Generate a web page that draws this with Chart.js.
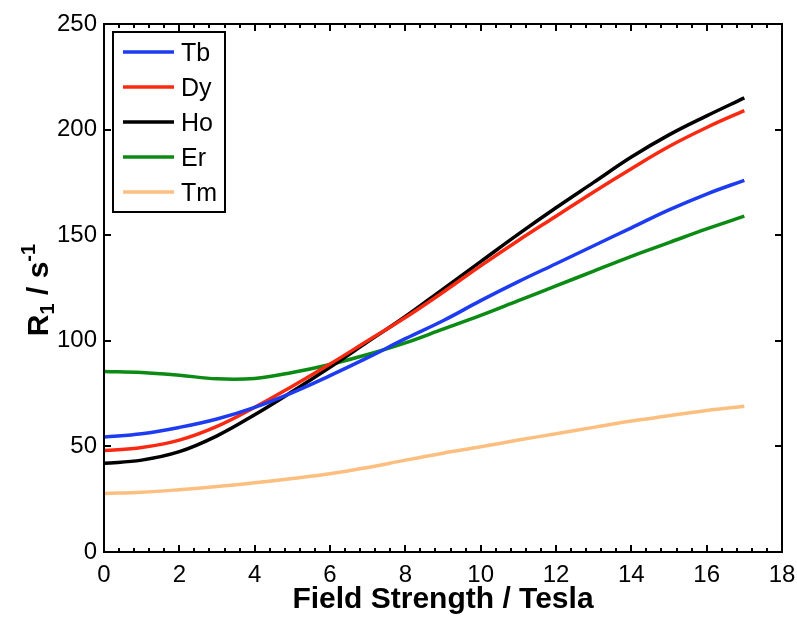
<!DOCTYPE html>
<html>
<head>
<meta charset="utf-8">
<script src="https://cdn.jsdelivr.net/npm/chart.js@4"></script>
<style>
body{margin:0;background:#fff;}
canvas{display:block;}
</style>
</head>
<body>
<canvas id="r1Chart" width="797" height="619"></canvas>
<script>
// field strength in tesla
const fieldT=[0,1,2,3,4,5,6,7,8,9,10,11,12,13,14,15,16,17];

// R1 values, s^-1
const tb=[54.5,56,59,63,68.5,75.5,83.5,92,101,109.5,119,128,136.5,145,153.5,162,169.5,176];
const dy=[48,49.5,53,59.5,68.5,78.5,89,100,111,123,135.5,147.5,159,170.5,181.5,192,201,209];
const ho=[42,43.5,47.5,55,65,76,87.5,99.5,111.5,124.5,137.5,150.5,163,175,187,197.5,206.5,215];
const er=[85.5,85,83.7,82,82.2,85,88.8,93.5,99,105.5,112,119,126,133,140,146.5,153,159];
const tm=[27.7,28.3,29.5,31,32.8,34.8,37,40,43.5,46.8,49.8,53,56,59,62,64.5,67,69];

const seriesNames=["Tb","Dy","Ho","Er","Tm"];
const seriesColors=["#1d3cf2","#fa2a12","#000000","#0b8a14","#fcbf80"];

const xTicks=[0,2,4,6,8,10,12,14,16,18];
const yTicks=[0,50,100,150,200,250];

function pts(ys){
return fieldT.map((x,i)=>({x:x,y:ys[i]}));
}

const allSeries=[tb,dy,ho,er,tm];

const datasets=allSeries.map((s,i)=>({
label:seriesNames[i],
data:pts(s),
borderColor:seriesColors[i],
backgroundColor:seriesColors[i],
borderWidth:3.5,
pointRadius:0,
tension:0.4,
fill:false
}));

const FONT="'Liberation Sans', Arial, sans-serif";

// box, inward ticks, legend and y title (matlab look)
const framePlugin={
id:"frame",
afterDraw(chart){
const ctx=chart.ctx;
const a=chart.chartArea;
const xs=chart.scales.x;
const ys=chart.scales.y;
ctx.save();
ctx.strokeStyle="#000";
ctx.lineWidth=2;
ctx.strokeRect(a.left,a.top,a.right-a.left,a.bottom-a.top);

ctx.beginPath();
// x major + minor ticks, bottom and top
for(let v=0;v<=18.001;v+=0.4){
const px=Math.round(xs.getPixelForValue(v));
const major=Math.abs(v/2-Math.round(v/2))<0.01;
const len=major?7:4;
ctx.moveTo(px,a.bottom);ctx.lineTo(px,a.bottom-len);
ctx.moveTo(px,a.top);ctx.lineTo(px,a.top+len);
}
// y major ticks, left and right
yTicks.forEach(v=>{
const py=Math.round(ys.getPixelForValue(v));
ctx.moveTo(a.left,py);ctx.lineTo(a.left+7,py);
ctx.moveTo(a.right,py);ctx.lineTo(a.right-7,py);
});
ctx.stroke();

// legend
const lx=113,ly=32,lw=112,lh=180;
ctx.fillStyle="#fff";
ctx.fillRect(lx,ly,lw,lh);
ctx.strokeRect(lx,ly,lw,lh);
ctx.font="25px "+FONT;
ctx.textBaseline="middle";
ctx.textAlign="left";
chart.data.datasets.forEach((d,i)=>{
const ry=52+i*35;
ctx.strokeStyle=d.borderColor;
ctx.lineWidth=3.5;
ctx.beginPath();
ctx.moveTo(123,ry);ctx.lineTo(174,ry);
ctx.stroke();
ctx.fillStyle="#000";
ctx.fillText(d.label,181,ry+2);
});

// y title R1 / s-1
ctx.translate(48,290);
ctx.rotate(-Math.PI/2);
ctx.fillStyle="#000";
ctx.textBaseline="alphabetic";
const big="bold 30px "+FONT;
const small="bold 20px "+FONT;
const parts=[["R",big,0],["1",small,6],[" / s",big,0],["-1",small,-13]];
let total=0;
parts.forEach(p=>{ctx.font=p[1];total+=ctx.measureText(p[0]).width;});
let cx=-total/2;
parts.forEach(p=>{
ctx.font=p[1];
ctx.fillText(p[0],cx,p[2]);
cx+=ctx.measureText(p[0]).width;
});
ctx.restore();
}
};

const ctx=document.getElementById("r1Chart").getContext("2d");

const r1Chart=new Chart(ctx,{
type:"line",
data:{datasets:datasets},
options:{
responsive:false,
animation:false,
devicePixelRatio:1,
layout:{padding:{left:0,top:24,right:15,bottom:0}},
plugins:{
legend:{display:false},
tooltip:{enabled:false}
},
scales:{
x:{
type:"linear",
min:0,
max:18,
afterBuildTicks:s=>{s.ticks=xTicks.map(v=>({value:v}));},
afterFit:s=>{s.height=67;s.paddingLeft=0;s.paddingRight=0;},
grid:{display:false,drawTicks:false},
border:{display:false},
ticks:{color:"#000",font:{family:FONT,size:24},padding:9,maxRotation:0,autoSkip:false},
title:{display:true,text:"Field Strength / Tesla",color:"#000",font:{family:FONT,size:30,weight:"bold"},padding:{top:0,bottom:1}}
},
y:{
min:0,
max:250,
afterBuildTicks:s=>{s.ticks=yTicks.map(v=>({value:v}));},
afterFit:s=>{s.width=104;},
grid:{display:false,drawTicks:false},
border:{display:false},
ticks:{color:"#000",font:{family:FONT,size:24},padding:7}
}
}
},
plugins:[framePlugin]
});
</script>
</body>
</html>
